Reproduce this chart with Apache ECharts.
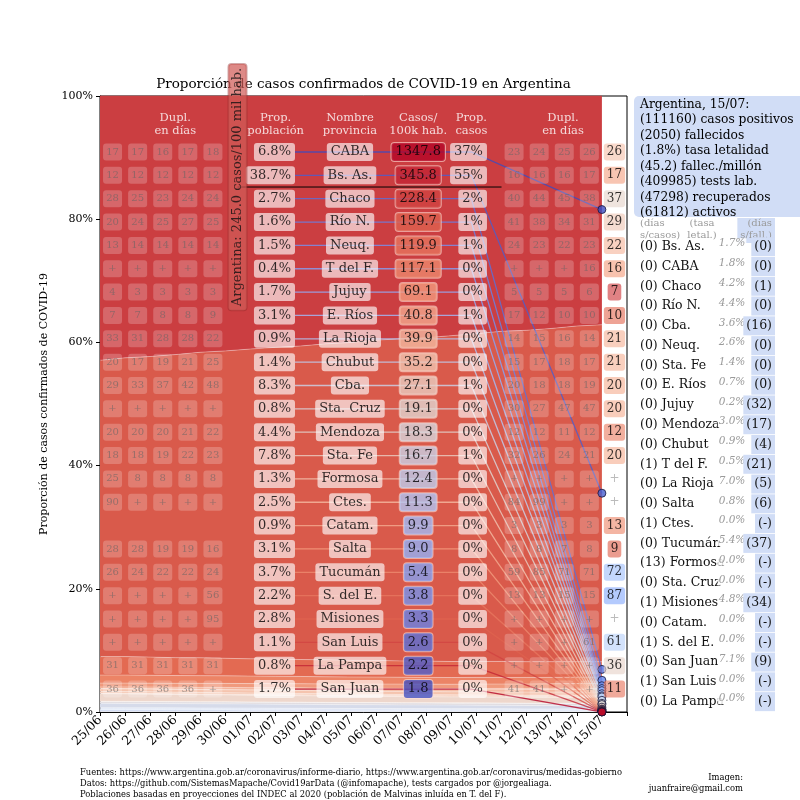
<!DOCTYPE html>
<html><head><meta charset="utf-8">
<script src="https://cdn.jsdelivr.net/npm/echarts@6/dist/echarts.min.js"></script>
<style>html,body{margin:0;padding:0;background:#fff}#c{width:800px;height:800px}</style>
</head><body><div id="c"></div><script>
// ---------------- DATA ----------------
const dates = ['25/06','26/06','27/06','28/06','29/06','30/06','01/07','02/07','03/07','04/07','05/07','06/07','07/07','08/07','09/07','10/07','11/07','12/07','13/07','14/07','15/07'];
const provinces = ['CABA','Bs. As.','Chaco','Río N.','Neuq.','T del F.','Jujuy','E. Ríos','La Rioja','Chubut','Cba.','Sta. Cruz','Mendoza','Sta. Fe','Formosa','Ctes.','Catam.','Salta','Tucumán','S. del E.','Misiones','San Luis','La Pampa','San Juan'];
const propPoblacion = ['6.8%','38.7%','2.7%','1.6%','1.5%','0.4%','1.7%','3.1%','0.9%','1.4%','8.3%','0.8%','4.4%','7.8%','1.3%','2.5%','0.9%','3.1%','3.7%','2.2%','2.8%','1.1%','0.8%','1.7%'];
const casosPor100k = [1347.8,345.8,228.4,159.7,119.9,117.1,69.1,40.8,39.9,35.2,27.1,19.1,18.3,16.7,12.4,11.3,9.9,9.0,5.4,3.8,3.3,2.6,2.2,1.8];
const propCasos = ['37%','55%','2%','1%','1%','0%','0%','1%','0%','0%','1%','0%','0%','1%','0%','0%','0%','0%','0%','0%','0%','0%','0%','0%'];
const promedioNacional = 245.0;

// proportion of confirmed cases (%) per province and date
const s_CABA    = [43.2,42.9,42.6,42.2,41.9,41.6,41.3,41.0,40.7,40.4,40.1,39.8,39.5,39.3,39.0,38.7,38.4,38.2,37.9,37.6,37.4];
const s_BsAs    = [48.1,48.5,48.8,49.2,49.6,49.9,50.3,50.6,50.9,51.3,51.6,52.0,52.3,52.5,52.9,53.2,53.6,53.8,54.1,54.5,54.7];
const s_Chaco   = [3.0,3.0,2.95,2.9,2.9,2.85,2.8,2.8,2.75,2.75,2.7,2.7,2.65,2.65,2.6,2.6,2.6,2.55,2.55,2.5,2.5];
const s_RioN    = [1.3,1.3,1.28,1.26,1.25,1.23,1.21,1.2,1.18,1.16,1.15,1.13,1.12,1.1,1.09,1.08,1.07,1.06,1.05,1.05,1.04];
const s_Neuq    = [0.62,0.62,0.63,0.64,0.65,0.65,0.66,0.67,0.67,0.68,0.68,0.69,0.7,0.7,0.7,0.71,0.71,0.72,0.72,0.73,0.73];
const s_TdF     = [0.27,0.27,0.26,0.26,0.25,0.25,0.24,0.24,0.23,0.23,0.22,0.22,0.21,0.21,0.21,0.2,0.2,0.2,0.19,0.19,0.19];
const s_Jujuy   = [0.04,0.05,0.07,0.09,0.11,0.13,0.15,0.17,0.19,0.21,0.23,0.25,0.27,0.29,0.31,0.34,0.37,0.4,0.43,0.46,0.48];
const s_ERios   = [0.42,0.44,0.45,0.46,0.47,0.47,0.48,0.48,0.49,0.49,0.49,0.5,0.5,0.5,0.5,0.51,0.51,0.51,0.52,0.52,0.52];
const s_LaRioja = [0.28,0.28,0.27,0.26,0.26,0.25,0.24,0.23,0.22,0.21,0.2,0.19,0.19,0.18,0.17,0.17,0.16,0.16,0.15,0.15,0.15];
const s_Chubut  = [0.08,0.09,0.1,0.1,0.11,0.12,0.12,0.13,0.14,0.14,0.15,0.15,0.16,0.16,0.17,0.17,0.18,0.18,0.19,0.19,0.2];
const s_Cba     = [1.25,1.22,1.19,1.16,1.13,1.11,1.09,1.07,1.05,1.03,1.01,0.99,0.98,0.97,0.96,0.95,0.94,0.94,0.93,0.93,0.92];
const s_StaCruz = [0.05,0.05,0.05,0.05,0.05,0.05,0.05,0.05,0.05,0.05,0.05,0.05,0.05,0.05,0.05,0.06,0.06,0.06,0.06,0.06,0.06];
const s_Mendoza = [0.26,0.27,0.27,0.28,0.28,0.29,0.29,0.3,0.3,0.3,0.31,0.31,0.31,0.32,0.32,0.32,0.32,0.33,0.33,0.33,0.33];
const s_StaFe   = [0.72,0.71,0.7,0.69,0.68,0.67,0.66,0.65,0.64,0.63,0.62,0.61,0.6,0.59,0.58,0.57,0.56,0.55,0.54,0.54,0.53];
const s_Formosa = [0.12,0.12,0.12,0.12,0.11,0.11,0.11,0.1,0.1,0.1,0.09,0.09,0.09,0.08,0.08,0.08,0.08,0.07,0.07,0.07,0.07];
const s_Ctes    = [0.2,0.19,0.19,0.18,0.18,0.17,0.17,0.16,0.16,0.15,0.15,0.15,0.14,0.14,0.13,0.13,0.13,0.12,0.12,0.12,0.12];
const s_Catam   = [0,0,0,0,0,0,0,0,0,0,0,0.001,0.002,0.004,0.006,0.01,0.014,0.019,0.025,0.03,0.036];
const s_Salta   = [0.05,0.05,0.05,0.06,0.06,0.06,0.06,0.07,0.07,0.07,0.07,0.08,0.08,0.08,0.09,0.09,0.09,0.1,0.1,0.11,0.11];
const s_Tucuman = [0.15,0.15,0.15,0.14,0.14,0.14,0.13,0.13,0.13,0.12,0.12,0.11,0.11,0.11,0.1,0.1,0.1,0.09,0.09,0.08,0.08];
const s_SdE     = [0.04,0.04,0.04,0.04,0.04,0.04,0.04,0.04,0.04,0.04,0.04,0.04,0.04,0.04,0.04,0.04,0.03,0.03,0.03,0.03,0.03];
const s_Misiones= [0.08,0.08,0.08,0.07,0.07,0.07,0.07,0.06,0.06,0.06,0.06,0.06,0.05,0.05,0.05,0.05,0.05,0.04,0.04,0.04,0.04];
const s_SanLuis = [0.02,0.02,0.02,0.02,0.02,0.02,0.02,0.02,0.015,0.015,0.015,0.015,0.015,0.015,0.015,0.012,0.012,0.012,0.012,0.012,0.012];
const s_LaPampa = [0.01,0.01,0.01,0.01,0.01,0.01,0.01,0.01,0.01,0.01,0.009,0.009,0.009,0.009,0.008,0.008,0.008,0.008,0.007,0.007,0.007];
const s_SanJuan = [0.03,0.03,0.03,0.03,0.03,0.03,0.025,0.025,0.025,0.02,0.02,0.02,0.02,0.018,0.018,0.016,0.015,0.014,0.013,0.012,0.012];
const shares = [s_CABA,s_BsAs,s_Chaco,s_RioN,s_Neuq,s_TdF,s_Jujuy,s_ERios,s_LaRioja,s_Chubut,s_Cba,s_StaCruz,s_Mendoza,s_StaFe,s_Formosa,s_Ctes,s_Catam,s_Salta,s_Tucuman,s_SdE,s_Misiones,s_SanLuis,s_LaPampa,s_SanJuan];

// doubling time in days: 25/06..29/06
const dupInicio = [
 ['17','17','16','17','18'],['12','12','12','12','12'],['28','25','23','24','24'],['20','24','25','27','25'],
 ['13','14','14','14','14'],['+','+','+','+','+'],['4','3','3','3','3'],['7','7','8','8','9'],
 ['33','31','28','28','22'],['20','17','19','21','25'],['29','33','37','42','48'],['+','+','+','+','+'],
 ['20','20','20','21','22'],['18','18','19','22','23'],['25','8','8','8','8'],['90','+','+','+','+'],
 ['','','','',''],['28','28','19','19','16'],['26','24','22','22','24'],['+','+','+','+','56'],
 ['+','+','+','+','95'],['+','+','+','+','+'],['31','31','31','31','31'],['36','36','36','36','+']];
// doubling time in days: 11/07..14/07
const dupFinal = [
 ['23','24','25','26'],['16','16','16','17'],['40','44','45','38'],['41','38','34','31'],
 ['24','23','22','23'],['+','+','+','16'],['5','5','5','6'],['17','12','10','10'],
 ['14','15','16','14'],['15','17','18','17'],['20','18','18','19'],['30','27','47','47'],
 ['12','12','11','12'],['32','26','24','21'],['+','+','+','+'],['84','99','+','+'],
 ['3','3','3','3'],['8','8','7','8'],['59','85','71','71'],['13','13','15','15'],
 ['+','+','+','+'],['+','+','+','61'],['+','+','+','+'],['41','41','+','+']];
// doubling time in days: 15/07
const dup1507 = [26,17,37,29,22,16,7,10,21,21,20,20,12,20,'+','+',13,9,72,87,'+',61,36,11];

// right panel
const infoFecha = '15/07', casosPositivos = 111160, fallecidos = 2050, tasaLetalidad = '1.8%',
      fallecMillon = 45.2, testsLab = 409985, recuperados = 47298, activos = 61812;
const legNombres = ['Bs. As.','CABA','Chaco','Río N.','Cba.','Neuq.','Sta. Fe','E. Ríos','Jujuy','Mendoza','Chubut','T del F.','La Rioja','Salta','Ctes.','Tucumán','Formosa','Sta. Cruz','Misiones','Catam.','S. del E.','San Juan','San Luis','La Pampa'];
const legDiasSinCasos = [0,0,0,0,0,0,0,0,0,0,0,1,0,0,1,0,13,0,1,0,1,0,1,0];
const legLetalidad = ['1.7%','1.8%','4.2%','4.4%','3.6%','2.6%','1.4%','0.7%','0.2%','3.0%','0.9%','0.5%','7.0%','0.8%','0.0%','5.4%','0.0%','0.0%','4.8%','0.0%','0.0%','7.1%','0.0%','0.0%'];
const legDiasSinFall = ['0','0','1','0','16','0','0','0','32','17','4','21','5','6','-','37','-','-','34','-','-','9','-','-'];

// ---------------- STYLE ----------------
const bandColors = ['#cb3e41','#d95a4b','#e36a52','#ec8466','#f09a7d','#f2a689','#f4b89f','#f5c4ae','#f5cab6','#f3d0c0','#eed7cc','#e6dad6','#dfdbe0','#d6dbea','#ccd7f0','#c8d5f1','#c2d0f1','#bfcef1','#b6c7ef','#afc2ee','#adc0ed','#a7bbec','#a4b9eb','#a1b6ea'];
const CW = [[0,59,76,192],[0.125,98,130,234],[0.25,141,176,254],[0.375,184,208,249],[0.5,221,221,221],[0.625,245,196,173],[0.75,244,154,123],[0.875,222,96,77],[1,180,4,38]];
function coolwarm(t, a) {
  t = Math.max(0, Math.min(1, t));
  for (let k = 1; k < CW.length; k++) {
    if (t <= CW[k][0] + 1e-9) {
      const p = CW[k-1], q = CW[k], f = (t - p[0]) / (q[0] - p[0]);
      const c = [1,2,3].map(j => Math.round(p[j] + f * (q[j] - p[j])));
      return 'rgba(' + c.join(',') + ',' + a + ')';
    }
  }
}
function dupColor(d) {
  const t = d < 45 ? 0.5 + 0.5 * (Math.log(45) - Math.log(d)) / (Math.log(45) - Math.log(5))
                   : 0.5 - 0.5 * (Math.log(d) - Math.log(45)) / (Math.log(160) - Math.log(45));
  return coolwarm(t, 0.8);
}

const F = '"DejaVu Serif", serif';
const N = provinces.length;
const last = dates.length - 1;
const ROW0 = 90.909, ROWSTEP = 3.7906;
const rowY = i => ROW0 - i * ROWSTEP;
const HEAD_Y = 95.37;
const X_POB = 7.77, X_NOM = 9.96, X_CAS = 12.68, X_PCAS = 15.42, X_FAN = 14.8, X_LAB = 5.48, X_LINE_END = 16.0;

// ---------------- SERIES ----------------
const series = [];
for (let i = N - 1; i >= 0; i--) {
  series.push({type:'line', name:provinces[i], stack:'prop', xAxisIndex:0, yAxisIndex:0, data:shares[i],
    symbol:'none', silent:true, z:1, itemStyle:{color:bandColors[i]},
    lineStyle:{width:0.6, color:'rgba(255,255,255,0.55)'}, areaStyle:{color:bandColors[i], opacity:1}});
}
// band mid-points at last date
let cum = 0; const mids = new Array(N);
for (let i = N - 1; i >= 0; i--) { const v = shares[i][last]; mids[i] = Math.min(cum + v / 2, 100); cum += v; }
const rowColor = i => coolwarm(i / (N - 1), 1);

series.push({type:'lines', coordinateSystem:'cartesian2d', xAxisIndex:1, yAxisIndex:0, polyline:true, z:3, silent:true,
  data: provinces.map((p,i)=>({coords:[[X_POB,rowY(i)],[X_FAN,rowY(i)],[last,mids[i]]],
    lineStyle:{color:rowColor(i), width:1.3, opacity:0.8}}))});
series.push({type:'scatter', xAxisIndex:1, yAxisIndex:0, z:4, symbolSize:8, silent:true, clip:false,
  data: provinces.map((p,i)=>({value:[last,mids[i]], itemStyle:{color:rowColor(i), borderColor:'#15153a', borderWidth:1}}))});

// national average line
series.push({type:'line', xAxisIndex:1, yAxisIndex:0, z:4, silent:true, symbol:'none',
  data:[[X_LAB,rowY(1.5)],[X_LINE_END,rowY(1.5)]], lineStyle:{color:'#000', width:1}});

function col(x, texts, label, perItem) {
  const data = [];
  texts.forEach((t,i)=>{ if (t === '' || t == null) return;
    const d = {value:[x, rowY(i), String(t)]};
    if (perItem) { const e = perItem(t,i); if (e) d.label = e; }
    data.push(d); });
  return {type:'scatter', xAxisIndex:1, yAxisIndex:0, symbolSize:0, silent:true, z:6, clip:false, data,
    label:Object.assign({show:true, formatter:p=>p.value[2], fontFamily:F, color:'#000'}, label)};
}
const whiteBox = {fontSize:13, backgroundColor:'rgba(255,255,255,0.8)', padding:[3,4,2,4], borderRadius:3};
series.push(col(X_POB, propPoblacion, Object.assign({position:'left', distance:0}, whiteBox)));
series.push(col(X_NOM, provinces, Object.assign({position:'inside'}, whiteBox)));
series.push(col(X_CAS, casosPor100k.map(v=>v.toFixed(1)), {position:'inside', fontSize:13, padding:[3,4,2,4], borderRadius:3,
  borderColor:'rgba(255,225,215,0.75)', borderWidth:1}, (t,i)=>({backgroundColor:coolwarm(1 - i / (N - 1), 0.96)})));
series.push(col(X_PCAS, propCasos, Object.assign({position:'left', distance:0}, whiteBox)));

// doubling boxes
const dupLabel = {position:'inside', fontSize:10, color:'rgba(100,100,100,0.75)', backgroundColor:'rgba(255,255,255,0.27)',
  width:15, height:13, align:'center', verticalAlign:'middle', lineHeight:13, padding:[2,2], borderRadius:3};
for (let j = 0; j < 5; j++) series.push(col(j + 0.5, dupInicio.map(r=>r[j]), dupLabel));
for (let j = 0; j < 4; j++) series.push(col(16.5 + j, dupFinal.map(r=>r[j]), dupLabel));
series.push(col(last + 0.5, dup1507, {position:'inside', fontSize:12, padding:[3,3,2,3], borderRadius:3},
  (t)=> t === '+' ? {color:'#aaaaaa', backgroundColor:'transparent'} : {backgroundColor:dupColor(t)}));

// headers
const headers = [[3.0,'Dupl.\nen días'],[7.0,'Prop.\npoblación'],[X_NOM,'Nombre\nprovincia'],[12.68,'Casos/\n100k hab.'],[14.8,'Prop.\ncasos'],[18.45,'Dupl.\nen días']];
series.push({type:'scatter', xAxisIndex:1, yAxisIndex:0, symbolSize:0, silent:true, z:6, clip:false,
  data: headers.map(h=>({value:[h[0], HEAD_Y, h[1]]})),
  label:{show:true, position:'inside', formatter:p=>p.value[2], color:'#fff', fontFamily:F, fontSize:11.5, lineHeight:12.5, align:'center'}});

// Argentina label
series.push({type:'scatter', xAxisIndex:1, yAxisIndex:0, symbolSize:0, silent:true, z:7, clip:false,
  data:[{value:[X_LAB, rowY(1.5), 'Argentina: ' + promedioNacional.toFixed(1) + ' casos/100 mil hab.']}],
  label:{show:true, position:'inside', rotate:90, formatter:p=>p.value[2], color:'#111', fontFamily:F, fontSize:13,
    backgroundColor:'rgba(208,92,88,0.9)', borderColor:'rgba(140,40,40,0.5)', borderWidth:1, padding:[3,4,2,4], borderRadius:3}});

// ---------------- GRAPHIC (title, right panel, footer) ----------------
const g = [];
g.push({type:'text', x:363.5, y:84, style:{text:'Proporción de casos confirmados de COVID-19 en Argentina', font:'13.5px ' + F, fill:'#000', align:'center', verticalAlign:'middle'}});
g.push({type:'rect', shape:{x:634, y:96, width:175, height:121, r:5}, style:{fill:'#d1ddf6'}});
const infoLines = ['Argentina, ' + infoFecha + ':', '(' + casosPositivos + ') casos positivos', '(' + fallecidos + ') fallecidos',
  '(' + tasaLetalidad + ') tasa letalidad', '(' + fallecMillon.toFixed(1) + ') fallec./millón', '(' + testsLab + ') tests lab.',
  '(' + recuperados + ') recuperados', '(' + activos + ') activos'];
g.push({type:'text', x:640, y:97, style:{text:infoLines.join('\n'), font:'12.3px ' + F, lineHeight:15.5, fill:'#000', align:'left', verticalAlign:'top'}});
g.push({type:'text', x:640, y:218, style:{text:'(días\ns/casos)', font:'10px ' + F, lineHeight:11.5, fill:'#9a9a9a', align:'left', verticalAlign:'top'}});
g.push({type:'text', x:702, y:218, style:{text:'(tasa\nletal.)', font:'10px ' + F, lineHeight:11.5, fill:'#9a9a9a', align:'center', verticalAlign:'top'}});
g.push({type:'text', x:775, y:218, style:{text:'(días\ns/fall.)', font:'10px ' + F, lineHeight:11.5, fill:'#9a9a9a', align:'right', verticalAlign:'top', backgroundColor:'#d1ddf6', padding:[0,3,2,3]}});
const LEG0 = 246.7, LEGSTEP = 19.78;
legNombres.forEach((n,i)=>{
  const y = LEG0 + i * LEGSTEP;
  g.push({type:'text', x:640, y:y, z:10, style:{text:'(' + legDiasSinCasos[i] + ') ' + n, font:'12.5px ' + F, fill:'#111', align:'left', verticalAlign:'middle'}});
  g.push({type:'text', x:732, y:y - 3, z:11, style:{text:legLetalidad[i], font:'italic 10.5px ' + F, fill:'#9a9a9a', align:'center', verticalAlign:'middle', backgroundColor:'rgba(255,255,255,0.85)', padding:[0,1]}});
  g.push({type:'text', x:775, y:y, z:11, style:{text:'(' + legDiasSinFall[i] + ')', font:'12.5px ' + F, fill:'#111', align:'right', verticalAlign:'middle', backgroundColor:'#d1ddf6', padding:[3,3,3,3]}});
});
const footFont = '9.3px "DejaVu Serif Condensed", "DejaVu Serif", serif';
g.push({type:'text', x:80, y:767, style:{text:'Fuentes: https://www.argentina.gob.ar/coronavirus/informe-diario, https://www.argentina.gob.ar/coronavirus/medidas-gobierno\nDatos: https://github.com/SistemasMapache/Covid19arData (@infomapache), tests cargados por @jorgealiaga.\nPoblaciones basadas en proyecciones del INDEC al 2020 (población de Malvinas inluída en T. del F).', font:footFont, lineHeight:11, fill:'#000', align:'left', verticalAlign:'top'}});
g.push({type:'text', x:743, y:772, style:{text:'Imagen:\njuanfraire@gmail.com', font:footFont, lineHeight:11, fill:'#000', align:'right', verticalAlign:'top'}});

const chart = echarts.init(document.getElementById('c'));
chart.setOption({
  animation:false,
  backgroundColor:'#fff',
  grid:{left:100, right:173, top:96, bottom:88, show:true, borderColor:'#000', borderWidth:1, backgroundColor:'#fff'},
  xAxis:[
    {type:'category', data:dates.concat(['']), boundaryGap:false,
     axisLabel:{rotate:45, interval:0, fontFamily:F, fontSize:12.5, color:'#000', margin:6},
     axisTick:{show:true, interval:0, length:4, lineStyle:{color:'#000'}},
     axisLine:{show:true, lineStyle:{color:'#000'}}, splitLine:{show:false}},
    {type:'value', min:0, max:21, show:false, splitLine:{show:false}}
  ],
  yAxis:[{type:'value', min:0, max:100, interval:20,
    axisLabel:{formatter:'{value}%', fontFamily:F, fontSize:11, color:'#000', margin:7},
    axisLine:{show:true, lineStyle:{color:'#000'}}, axisTick:{show:true, length:4, lineStyle:{color:'#000'}},
    splitLine:{show:false},
    name:'Proporción de casos confirmados de COVID-19', nameLocation:'middle', nameGap:50, nameRotate:90,
    nameTextStyle:{fontFamily:F, fontSize:11, color:'#000'}}],
  series:series,
  graphic:g
});
</script></body></html>
